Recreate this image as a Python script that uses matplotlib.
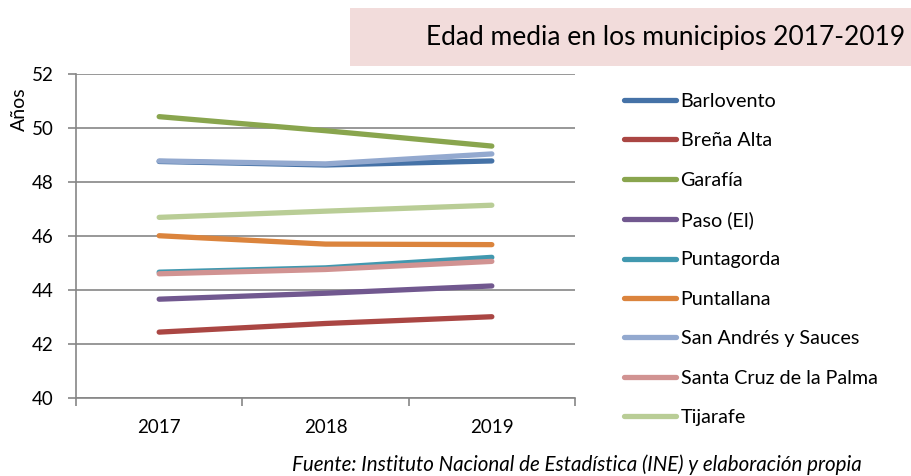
import matplotlib
matplotlib.use("Agg")
import matplotlib.pyplot as plt
from matplotlib.patches import Rectangle

plt.rcParams['font.family'] = ['Lato', 'DejaVu Sans']

years = ["2017", "2018", "2019"]
municipios = ["Barlovento", "Breña Alta", "Garafía", "Paso (El)", "Puntagorda",
              "Puntallana", "San Andrés y Sauces", "Santa Cruz de la Palma", "Tijarafe"]
barlovento = [48.76, 48.63, 48.78]
brena_alta = [42.44, 42.76, 43.01]
garafia = [50.42, 49.90, 49.33]
paso = [43.66, 43.88, 44.15]
puntagorda = [44.66, 44.82, 45.21]
puntallana = [46.01, 45.70, 45.68]
san_andres = [48.78, 48.67, 49.04]
santa_cruz = [44.60, 44.76, 45.06]
tijarafe = [46.69, 46.92, 47.14]
series = [barlovento, brena_alta, garafia, paso, puntagorda,
          puntallana, san_andres, santa_cruz, tijarafe]
colors = ["#4572A7", "#AA4643", "#89A54E", "#71588F", "#4198AF",
          "#DB843D", "#93A9CF", "#D19392", "#B9CD96"]
yticks = [40, 42, 44, 46, 48, 50, 52]

W, H = 911, 476
fig = plt.figure(figsize=(W / 100, H / 100), dpi=100)
ax = fig.add_axes([76 / W, 1 - 398 / H, (575 - 76) / W, (398 - 74) / H])

x = list(range(len(years)))
for name, vals, c in zip(municipios, series, colors):
    ax.plot(x, vals, color=c, lw=3.8, solid_capstyle='round', label=name)

ax.set_xlim(-0.5, len(years) - 0.5)
ax.set_ylim(40, 52)
ax.set_yticks(yticks)
ax.set_yticklabels([str(v) for v in yticks])
ax.set_xticks(x)
ax.set_xticklabels(years)
ax.set_xticks([i - 0.5 for i in range(len(years) + 1)], minor=True)
ax.tick_params(axis='x', which='major', length=0, pad=15, labelsize=13.5, colors='#000000')
ax.tick_params(axis='x', which='minor', length=6, width=1.2, color='#868686', direction='out')
ax.tick_params(axis='y', length=6, width=1.2, color='#868686', pad=10, labelsize=13.5)
ax.grid(axis='y', color='#868686', lw=1.2)
ax.set_axisbelow(True)
for s in ['top', 'right']:
    ax.spines[s].set_visible(False)
for s in ['left', 'bottom']:
    ax.spines[s].set_color('#868686')
    ax.spines[s].set_linewidth(1.2)
    ax.spines[s].set_zorder(0.5)

ax.set_ylabel("Años", fontsize=14)
ax.yaxis.set_label_coords(-0.097, 0.89)

leg = ax.legend(loc='upper left', bbox_to_anchor=(624 / W, 1 - 93 / H),
                bbox_transform=fig.transFigure, frameon=False,
                fontsize=14.2, handlelength=2.65, handletextpad=0.22,
                labelspacing=1.135, borderaxespad=0, borderpad=0)

fig.patches.append(Rectangle((350 / W, 1 - 66 / H), 561 / W, 58 / H,
                             transform=fig.transFigure, facecolor='#F2DCDB',
                             edgecolor='none', zorder=0))
fig.text(905 / W, 1 - 38 / H, "Edad media en los municipios 2017-2019",
         ha='right', va='center', fontsize=19)
fig.text(862 / W, 1 - 465 / H,
         "Fuente: Instituto Nacional de Estadística (INE) y elaboración propia",
         ha='right', va='center', fontsize=14.8, style='italic')

fig.savefig("out.png", dpi=100)
